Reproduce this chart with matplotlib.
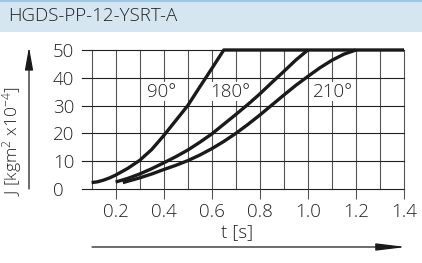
import matplotlib
matplotlib.use("Agg")

import matplotlib.pyplot as plt
from matplotlib.patches import Rectangle, FancyArrowPatch
from matplotlib.lines import Line2D

# ---------- Data ----------
title = "HGDS-PP-12-YSRT-A"

t_90 = [0.10, 0.125, 0.15, 0.175, 0.20, 0.25, 0.30, 0.35, 0.40, 0.45, 0.50, 0.55, 0.60, 0.65, 1.40]
j_90 = [2.3, 2.6, 3.2, 4.0, 5.0, 7.4, 10.3, 14.2, 19.2, 24.6, 30.0, 36.7, 43.3, 50.0, 50.0]

t_180 = [0.20, 0.25, 0.30, 0.35, 0.40, 0.45, 0.50, 0.55, 0.60, 0.65, 0.70, 0.75, 0.80, 0.85, 0.90, 0.95, 1.00]
j_180 = [2.5, 3.8, 5.4, 7.3, 9.4, 11.6, 14.0, 16.8, 19.8, 23.3, 26.8, 30.4, 34.2, 38.3, 42.3, 46.4, 50.0]

t_210 = [0.23, 0.30, 0.35, 0.40, 0.45, 0.50, 0.55, 0.60, 0.65, 0.70, 0.75, 0.80, 0.85, 0.90, 0.95, 1.00, 1.05, 1.10, 1.15, 1.20]
j_210 = [2.3, 4.0, 5.4, 7.0, 8.5, 10.2, 12.2, 14.5, 17.1, 20.0, 23.2, 26.6, 30.2, 33.8, 37.3, 40.5, 43.6, 46.3, 48.5, 50.0]

curve_labels = ["90°", "180°", "210°"]
label_t = [0.392, 0.676, 1.105]
label_j = [35.0, 35.0, 35.0]

x_major = [0.2, 0.4, 0.6, 0.8, 1.0, 1.2, 1.4]
x_minor = [0.1, 0.3, 0.5, 0.7, 0.9, 1.1, 1.3]
y_ticks = [0, 10, 20, 30, 40, 50]

# ---------- Style ----------
plt.rcParams["font.family"] = ["Open Sans", "DejaVu Sans"]
plt.rcParams["font.weight"] = "light"
plt.rcParams["mathtext.fontset"] = "custom"
plt.rcParams["mathtext.rm"] = "Open Sans:weight=light"
plt.rcParams["mathtext.it"] = "Open Sans:weight=light"
plt.rcParams["mathtext.bf"] = "Open Sans:weight=light"
txt_col = "#222222"
fs = 13.5

W, H = 422, 263
fig = plt.figure(figsize=(W / 100, H / 100), dpi=100)

# ---------- Title band ----------
fig.add_artist(Rectangle((0, 1 - 32 / H), 1, 32 / H, transform=fig.transFigure,
                         facecolor="#d5e6f1", edgecolor="none"))
fig.add_artist(Line2D([0, 1], [1 - 1 / H, 1 - 1 / H], transform=fig.transFigure,
                      color="#9cc6e2", linewidth=1.5))
fig.text(8 / W, 1 - 16 / H, title, fontsize=13.5, color=txt_col,
         ha="left", va="center")

# ---------- Axes ----------
ax = fig.add_axes([82 / W, 74 / H, 322 / W, 139 / H])
ax.set_xlim(0.06, 1.4)
ax.set_ylim(0, 50)

grid_col = "#555555"
for x in x_major + x_minor:
    ax.plot([x, x], [0, 50], color=grid_col, linewidth=0.8, zorder=1, clip_on=False)
for y in y_ticks:
    ax.plot([0.06, 1.4], [y, y], color="#222222", linewidth=0.8, zorder=1, clip_on=False)

for s in ax.spines.values():
    s.set_visible(False)

ax.set_xticks(x_major)
ax.set_xticklabels([f"{v:.1f}" for v in x_major])
ax.tick_params(axis="x", direction="out", length=7, width=0.8, color=grid_col,
               pad=3, labelsize=fs, labelcolor=txt_col)
ax.set_yticks(y_ticks)
ax.set_yticklabels([str(v) for v in y_ticks])
ax.tick_params(axis="y", length=0, pad=21, labelsize=fs, labelcolor=txt_col)
for lbl in ax.get_yticklabels():
    lbl.set_horizontalalignment("left")

# ---------- Curves ----------
for tt, jj in [(t_90, j_90), (t_180, j_180), (t_210, j_210)]:
    ax.plot(tt, jj, color="#1a1a1a", linewidth=2.4, solid_capstyle="butt",
            solid_joinstyle="round", zorder=3, clip_on=False)

for txt, tx, jy in zip(curve_labels, label_t, label_j):
    ax.text(tx, jy, txt, fontsize=fs, color=txt_col, ha="center", va="center",
            zorder=4, bbox=dict(facecolor="white", edgecolor="none", pad=0.3))

# ---------- Axis labels and arrows ----------
fig.text(237 / W, 1 - 232 / H, "t [s]", fontsize=fs, color=txt_col,
         ha="center", va="center")
fig.text(12 / W, 1 - 141 / H, r"J [kgm$^2$ x10$^{-4}$]", fontsize=12.5,
         color=txt_col, ha="center", va="center", rotation=90)

fig.add_artist(FancyArrowPatch((92 / W, 1 - 247 / H), (406 / W, 1 - 247 / H),
                               transform=fig.transFigure,
                               arrowstyle="-|>,head_length=18,head_width=2.2",
                               color="#1a1a1a", linewidth=0.9, shrinkA=0, shrinkB=0))
fig.add_artist(FancyArrowPatch((29 / W, 1 - 189 / H), (29 / W, 1 - 47 / H),
                               transform=fig.transFigure,
                               arrowstyle="-|>,head_length=14,head_width=2.5",
                               color="#1a1a1a", linewidth=0.9, shrinkA=0, shrinkB=0))

fig.savefig("out.png", dpi=100)
